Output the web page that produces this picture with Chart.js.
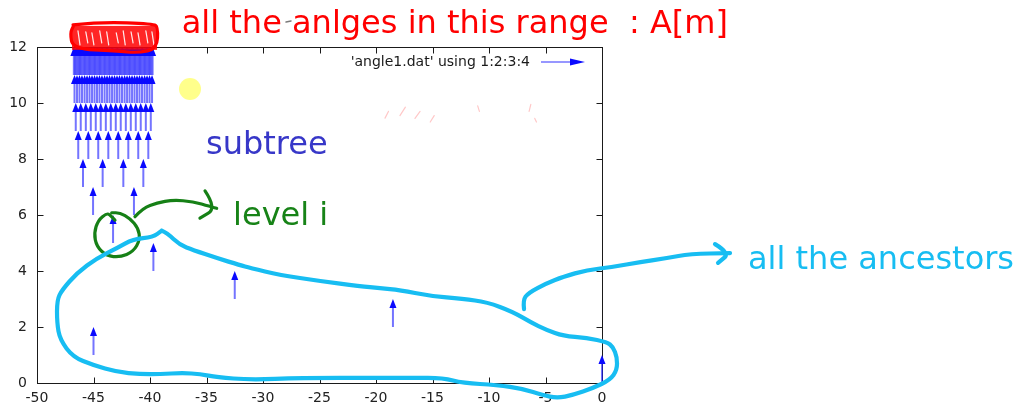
<!DOCTYPE html>
<html>
<head>
<meta charset="utf-8">
<script src="https://cdn.jsdelivr.net/npm/chart.js@4.4.1/dist/chart.umd.min.js"></script>
<style>
  html, body { margin: 0; padding: 0; background: #fff; }
  canvas { display: block; }
</style>
</head>
<body>
<canvas id="plot" width="1022" height="414"></canvas>
<script>
// ---- axis ticks ----
const xTicks = [-50, -45, -40, -35, -30, -25, -20, -15, -10, -5, 0];
const yTicks = [0, 2, 4, 6, 8, 10, 12];

// ---- vectors of angle1.dat (columns 1:2:3:4 -> x, y, dx, dy) ----
// single vectors of the ancestor chain, one per level
const trunkX = [0, -45, -18.5, -32.5, -39.7, -43.27];
const trunkY = [0, 1, 2, 3, 4, 5];
// subtree levels: base height of each row and the x of every vector in it
const rowY = [6, 7, 8, 9, 10, 11];
const row6X = [-45.04, -41.42];
const row7X = [-45.93, -44.19, -42.36, -40.59];
const row8X = [-46.35, -45.46, -44.58, -43.69, -42.81, -41.92, -41.04, -40.15];
const row9X = [-46.57, -46.13, -45.68, -45.24, -44.80, -44.36, -43.91, -43.47,
               -43.03, -42.59, -42.14, -41.70, -41.26, -40.82, -40.37, -39.93];
const row10X = [-46.68, -46.46, -46.24, -46.02, -45.79, -45.57, -45.35, -45.13,
                -44.91, -44.69, -44.47, -44.25, -44.02, -43.80, -43.58, -43.36,
                -43.14, -42.92, -42.70, -42.48, -42.25, -42.03, -41.81, -41.59,
                -41.37, -41.15, -40.93, -40.71, -40.48, -40.26, -40.04, -39.82];
const row11X = [-46.74, -46.63, -46.52, -46.41, -46.30, -46.19, -46.08, -45.97,
                -45.85, -45.74, -45.63, -45.52, -45.41, -45.30, -45.19, -45.08,
                -44.97, -44.86, -44.75, -44.64, -44.53, -44.42, -44.31, -44.20,
                -44.08, -43.97, -43.86, -43.75, -43.64, -43.53, -43.42, -43.31,
                -43.20, -43.09, -42.98, -42.87, -42.76, -42.65, -42.54, -42.43,
                -42.31, -42.20, -42.09, -41.98, -41.87, -41.76, -41.65, -41.54,
                -41.43, -41.32, -41.21, -41.10, -40.99, -40.88, -40.77, -40.66,
                -40.54, -40.43, -40.32, -40.21, -40.10, -39.99, -39.88, -39.77];
const vecDX = 0;
const vecDY = 1;

// ---- hand-drawn notes, in axis units ----
const titleText = 'all the anlges in this range  : A[m]';
const titleAt = [-37.19, 12.5];
const subtreeText = 'subtree';
const subtreeAt = [-35.04, 8.18];
const levelText = 'level i';
const levelAt = [-32.65, 5.64];
const ancestorsText = 'all the ancestors';
const ancestorsAt = [12.92, 4.07];
const sunAt = [-36.46, 10.5];
const maskBox = [[-46.99, 12.86], [-39.29, 11.79]];

const ancestorsLoop = [
  [-38.96, 5.44], [-38.50, 5.36], [-37.35, 4.93], [-36.19, 4.75], [-34.07, 4.46],
  [-32.04, 4.21], [-31.15, 4.11], [-28.50, 3.86], [-24.96, 3.64], [-21.42, 3.46],
  [-19.65, 3.39], [-17.88, 3.32], [-15.22, 3.11], [-12.30, 3.00], [-10.18, 2.89],
  [-7.88, 2.54], [-6.37, 2.18], [-4.87, 1.89], [-3.45, 1.68], [-1.33, 1.61],
  [0.44, 1.46], [0.97, 1.29], [1.33, 0.93], [1.33, 0.46], [0.71, 0.11],
  [-0.80, -0.18], [-2.57, -0.43], [-3.98, -0.54], [-5.22, -0.43], [-6.99, -0.21],
  [-9.29, -0.07], [-12.30, 0.00], [-14.07, 0.18], [-16.73, 0.18], [-19.65, 0.18],
  [-26.73, 0.18], [-31.15, 0.11], [-34.07, 0.21], [-35.58, 0.32], [-37.08, 0.36],
  [-39.12, 0.32], [-40.88, 0.32], [-42.92, 0.39], [-45.04, 0.64], [-46.81, 0.93],
  [-47.96, 1.54], [-48.23, 2.14], [-48.23, 2.96], [-47.79, 3.32], [-46.46, 3.93],
  [-44.69, 4.46], [-42.92, 4.82], [-41.50, 5.14], [-39.73, 5.21], [-38.96, 5.44]
];
const ancestorsPointer = [
  [-6.90, 2.64], [-6.99, 2.96], [-6.55, 3.21], [-4.87, 3.57], [-3.45, 3.79],
  [-1.33, 4.04], [0.97, 4.14], [3.36, 4.32], [5.75, 4.46], [7.79, 4.61], [11.33, 4.64]
];
const ancestorsHead = [[10.00, 4.96], [11.33, 4.64], [10.27, 4.29]];

const levelCircle = [
  [-43.10, 5.82], [-43.54, 6.00], [-43.83, 6.06], [-44.58, 5.82], [-44.96, 5.35],
  [-44.72, 4.87], [-43.83, 4.54], [-42.65, 4.49], [-41.48, 4.69], [-40.88, 5.11],
  [-41.04, 5.53], [-41.77, 5.88], [-42.65, 6.08], [-43.39, 6.08]
];
const levelPointer = [
  [-41.33, 5.94], [-40.62, 6.25], [-39.38, 6.43], [-37.96, 6.54], [-36.19, 6.48],
  [-34.69, 6.30], [-34.10, 6.24]
];
const levelHead = [[-35.13, 6.86], [-34.10, 6.24], [-35.58, 5.89]];

const faintMarks = [
  [[-19.20, 9.46], [-18.90, 9.70]], [[-17.88, 9.55], [-17.40, 9.85]],
  [[-16.55, 9.45], [-16.10, 9.70]], [[-15.20, 9.32], [-14.85, 9.55]],
  [[-11.00, 9.90], [-10.85, 9.70]], [[-6.30, 9.95], [-6.45, 9.70]],
  [[-5.95, 9.45], [-5.80, 9.32]]
];
const strayMark = [[-27.96, 12.89], [-27.52, 12.93]];

// ---- build the vector records ----
const vectors = [];
trunkX.forEach((x, i) => vectors.push({ x: x, y: trunkY[i], dx: vecDX, dy: vecDY }));
[row6X, row7X, row8X, row9X, row10X, row11X].forEach((xs, r) => {
  xs.forEach(x => vectors.push({ x: x, y: rowY[r], dx: vecDX, dy: vecDY }));
});

const FONT = '"DejaVu Sans", Verdana, sans-serif';
const TICK_FONT = { family: FONT, size: 14 };

function drawArrow(ctx, x0, y0, x1, y1, len, half, lineColor, headColor, lw) {
  const a = Math.atan2(y1 - y0, x1 - x0);
  const c = Math.cos(a), s = Math.sin(a);
  ctx.strokeStyle = lineColor;
  ctx.lineWidth = lw;
  ctx.beginPath();
  ctx.moveTo(x0, y0);
  ctx.lineTo(x1 - c * len * 0.7, y1 - s * len * 0.7);
  ctx.stroke();
  ctx.fillStyle = headColor;
  ctx.beginPath();
  ctx.moveTo(x1, y1);
  ctx.lineTo(x1 - c * len - s * half, y1 - s * len + c * half);
  ctx.lineTo(x1 - c * len + s * half, y1 - s * len - c * half);
  ctx.closePath();
  ctx.fill();
}

function inkPath(ctx, pts) {
  ctx.beginPath();
  ctx.moveTo(pts[0][0], pts[0][1]);
  for (let i = 1; i < pts.length - 1; i++) {
    const mx = (pts[i][0] + pts[i + 1][0]) / 2;
    const my = (pts[i][1] + pts[i + 1][1]) / 2;
    ctx.quadraticCurveTo(pts[i][0], pts[i][1], mx, my);
  }
  const last = pts[pts.length - 1];
  ctx.lineTo(last[0], last[1]);
  ctx.stroke();
}

const vectorPlot = {
  id: 'vectorPlot',
  afterDraw(chart) {
    const ctx = chart.ctx;
    const xs = chart.scales.x, ys = chart.scales.y;
    const area = chart.chartArea;
    const P = p => [xs.getPixelForValue(p[0]), ys.getPixelForValue(p[1])];
    ctx.save();

    // frame with inward ticks on all four sides
    const L = Math.round(area.left) + 0.5, R = Math.round(area.right) + 0.5;
    const T = Math.round(area.top) + 0.5, B = Math.round(area.bottom) + 0.5;
    ctx.strokeStyle = '#1a1a1a';
    ctx.lineWidth = 1;
    ctx.strokeRect(L, T, R - L, B - T);
    ctx.beginPath();
    xTicks.forEach(v => {
      const px = Math.round(xs.getPixelForValue(v)) + 0.5;
      ctx.moveTo(px, B); ctx.lineTo(px, B - 6);
      ctx.moveTo(px, T); ctx.lineTo(px, T + 6);
    });
    yTicks.forEach(v => {
      const py = Math.round(ys.getPixelForValue(v)) + 0.5;
      ctx.moveTo(L, py); ctx.lineTo(L + 6, py);
      ctx.moveTo(R, py); ctx.lineTo(R - 6, py);
    });
    ctx.stroke();

    // vectors
    chart.data.datasets[0].data.forEach(v => {
      const x0 = xs.getPixelForValue(v.x), y0 = ys.getPixelForValue(v.y);
      const x1 = xs.getPixelForValue(v.x + v.dx), y1 = ys.getPixelForValue(v.y + v.dy);
      drawArrow(ctx, x0, y0, x1, y1, 9, 3.5, 'rgba(30,30,255,0.62)', '#0a0aff', 2);
    });

    // key
    const label = chart.data.datasets[0].label;
    const ky = area.top + 15;
    ctx.font = '14px ' + FONT;
    ctx.fillStyle = '#1a1a1a';
    ctx.textAlign = 'right';
    ctx.textBaseline = 'middle';
    ctx.fillText(label, area.right - 72, ky);
    drawArrow(ctx, area.right - 61, ky, area.right - 17, ky, 15, 3.5, 'rgba(30,30,255,0.62)', '#0a0aff', 1.6);

    // notes on top of the plot
    ctx.lineCap = 'round';
    ctx.lineJoin = 'round';

    const sun = P(sunAt);
    ctx.fillStyle = 'rgba(255,255,90,0.7)';
    ctx.beginPath();
    ctx.arc(sun[0], sun[1], 11, 0, Math.PI * 2);
    ctx.fill();

    // red patch over the top row
    const m0 = P(maskBox[0]), m1 = P(maskBox[1]);
    ctx.fillStyle = 'rgba(255,0,0,0.85)';
    ctx.fillRect(m0[0] + 1, m0[1] + 3, m1[0] - m0[0] - 2, m1[1] - m0[1] - 6);
    ctx.strokeStyle = 'rgba(255,255,255,0.9)';
    ctx.lineWidth = 1.2;
    const gaps = [0.08, 0.17, 0.24, 0.33, 0.41, 0.52, 0.6, 0.69, 0.77, 0.86, 0.93];
    gaps.forEach((g, i) => {
      const gx = m0[0] + g * (m1[0] - m0[0]);
      ctx.beginPath();
      ctx.moveTo(gx, m0[1] + 8 + (i % 3));
      ctx.lineTo(gx + 2, m1[1] - 8 - (i % 2) * 2);
      ctx.stroke();
    });
    ctx.strokeStyle = '#ff0000';
    ctx.lineWidth = 3.2;
    inkPath(ctx, [[m0[0] + 2, m0[1] + 2], [m0[0] + 30, m0[1] - 1], [m1[0] - 5, m0[1] + 1],
                  [m1[0], m0[1] + 4], [m1[0] - 1, m1[1] - 4], [m1[0] - 20, m1[1]],
                  [m0[0] + 45, m1[1] - 2], [m0[0] + 2, m1[1] - 4], [m0[0] - 1, m0[1] + 10],
                  [m0[0] + 3, m0[1] + 2]]);

    ctx.strokeStyle = 'rgba(255,0,0,0.22)';
    ctx.lineWidth = 1.2;
    faintMarks.forEach(seg => inkPath(ctx, [P(seg[0]), P(seg[1])]));
    ctx.strokeStyle = 'rgba(90,90,90,0.8)';
    ctx.lineWidth = 1.5;
    inkPath(ctx, [P(strayMark[0]), P(strayMark[1])]);

    // texts
    ctx.textAlign = 'left';
    ctx.textBaseline = 'alphabetic';
    ctx.font = '32px ' + FONT;
    let t = P(titleAt);
    ctx.fillStyle = '#ff0000';
    ctx.fillText(titleText, t[0], t[1]);
    t = P(subtreeAt);
    ctx.fillStyle = '#3737c8';
    ctx.fillText(subtreeText, t[0], t[1]);
    t = P(levelAt);
    ctx.fillStyle = '#178317';
    ctx.fillText(levelText, t[0], t[1]);
    t = P(ancestorsAt);
    ctx.fillStyle = '#17bdf2';
    ctx.fillText(ancestorsText, t[0], t[1]);

    // green circle and pointer
    ctx.strokeStyle = '#168016';
    ctx.lineWidth = 3.2;
    inkPath(ctx, levelCircle.map(P));
    inkPath(ctx, levelPointer.map(P));
    inkPath(ctx, levelHead.map(P));

    // cyan loop and pointer
    ctx.strokeStyle = '#17bdf2';
    ctx.lineWidth = 4.2;
    inkPath(ctx, ancestorsLoop.map(P));
    inkPath(ctx, ancestorsPointer.map(P));
    inkPath(ctx, ancestorsHead.map(P));

    ctx.restore();
  }
};

new Chart(document.getElementById('plot'), {
  type: 'scatter',
  data: {
    datasets: [{
      label: "'angle1.dat' using 1:2:3:4",
      data: vectors,
      pointRadius: 0,
      pointHoverRadius: 0,
      showLine: false
    }]
  },
  options: {
    responsive: false,
    animation: false,
    devicePixelRatio: 1,
    events: [],
    layout: { padding: { left: 0, top: 47, right: 420, bottom: 0 } },
    plugins: { legend: { display: false }, tooltip: { enabled: false } },
    scales: {
      x: {
        type: 'linear',
        min: -50, max: 0,
        afterBuildTicks: s => { s.ticks = xTicks.map(v => ({ value: v })); },
        afterFit: s => { s.height = 31; },
        grid: { display: false, drawTicks: false },
        border: { display: false },
        ticks: { font: TICK_FONT, color: '#222', padding: 7, maxRotation: 0, autoSkip: false }
      },
      y: {
        type: 'linear',
        min: 0, max: 12,
        afterBuildTicks: s => { s.ticks = yTicks.map(v => ({ value: v })); },
        afterFit: s => { s.width = 37; },
        grid: { display: false, drawTicks: false },
        border: { display: false },
        ticks: { font: TICK_FONT, color: '#222', padding: 10, autoSkip: false }
      }
    }
  },
  plugins: [vectorPlot]
});
</script>
</body>
</html>
